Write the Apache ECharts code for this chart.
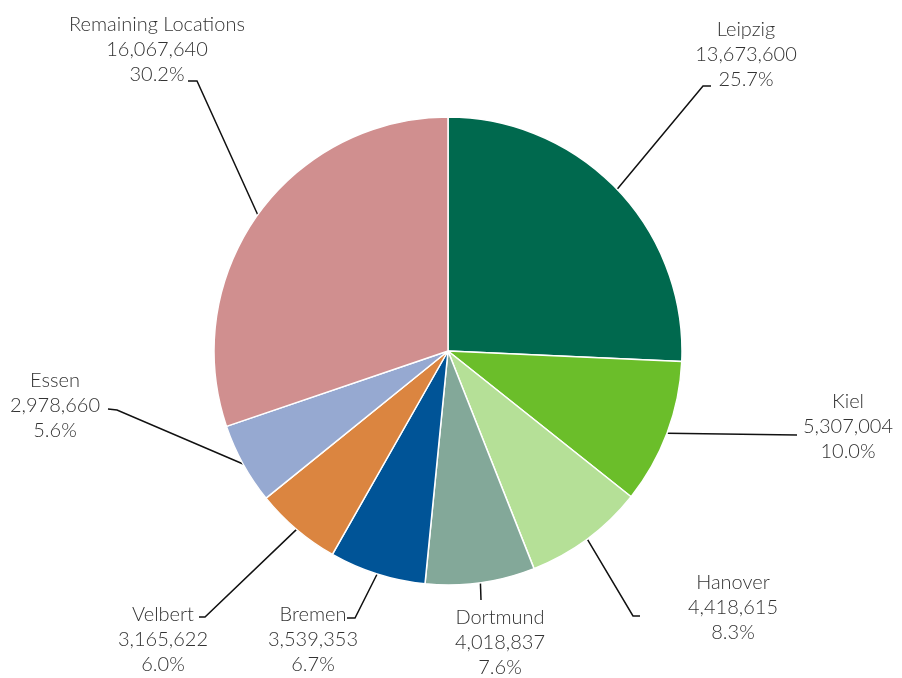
<!DOCTYPE html>
<html>
<head>
<meta charset="utf-8">
<script src="https://cdn.jsdelivr.net/npm/echarts@6/dist/echarts.min.js"></script>
<style>
  html, body { margin: 0; padding: 0; background: #fff; }
  #chart { width: 902px; height: 678px; }
</style>
</head>
<body>
<div id="chart"></div>
<script>
// data
var locations = ["Leipzig", "Kiel", "Hanover", "Dortmund", "Bremen", "Velbert", "Essen", "Remaining Locations"];
var amounts = [13673600, 5307004, 4418615, 4018837, 3539353, 3165622, 2978660, 16067640];
var sliceColors = ["#00694e", "#6bbe2a", "#b5e097", "#83a899", "#005497", "#db8540", "#96a9d1", "#d08f8f"];

// where each label sits: text centre, elbow of the line, end of the line
var labelSpots = [
  { text: [746, 55], elbow: [703, 86], end: [711, 86] },
  { text: [848, 427], elbow: [797, 435], end: [797, 435] },
  { text: [733, 608], elbow: [633, 616], end: [640, 616] },
  { text: [500, 643], elbow: [481, 600], end: [481, 600] },
  { text: [313, 640], elbow: [355, 618], end: [347, 618] },
  { text: [163, 640], elbow: [205, 617], end: [199, 617] },
  { text: [55, 406], elbow: [117, 410], end: [108, 409] },
  { text: [157, 50], elbow: [197, 81], end: [188, 81] }
];

var total = amounts.reduce(function (a, b) { return a + b; }, 0);

var myChart = echarts.init(document.getElementById("chart"));

var pieData = locations.map(function (name, i) {
  return { name: name, value: amounts[i], itemStyle: { color: sliceColors[i] } };
});

var option = {
  backgroundColor: "#fff",
  animation: false,
  series: [
    {
      type: "pie",
      center: [448, 351],
      radius: 234,
      startAngle: 90,
      clockwise: true,
      avoidLabelOverlap: false,
      data: pieData,
      itemStyle: {
        borderColor: "#fff",
        borderWidth: 1.5
      },
      label: {
        show: true,
        fontFamily: "Lato",
        fontWeight: 300,
        fontSize: 20,
        lineHeight: 25,
        color: "#333",
        formatter: function (p) {
          var pct = (p.value / total * 100).toFixed(1) + "%";
          return p.name + "\n" + p.value.toLocaleString("en-US") + "\n" + pct;
        }
      },
      labelLine: {
        show: true,
        lineStyle: { color: "#111", width: 1.5 }
      },
      labelLayout: function (params) {
        var s = labelSpots[params.dataIndex];
        var start = params.labelLinePoints ? params.labelLinePoints[0] : s.elbow;
        return {
          x: s.text[0],
          y: s.text[1],
          align: "center",
          verticalAlign: "middle",
          labelLinePoints: [start, s.elbow, s.end]
        };
      }
    }
  ]
};

myChart.setOption(option);
</script>
</body>
</html>
